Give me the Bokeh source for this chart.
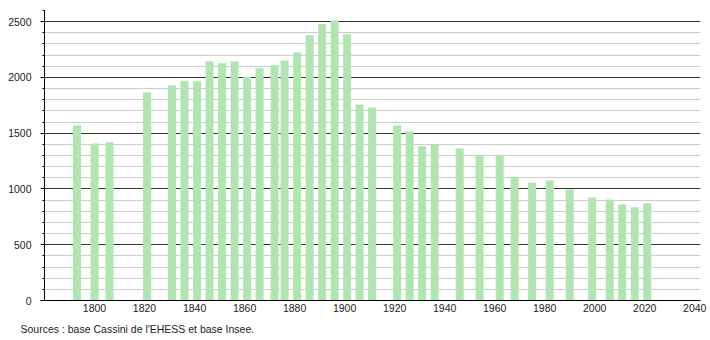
from bokeh.plotting import figure
from bokeh.models import FixedTicker, Title, ColumnDataSource
from bokeh.embed import file_html
from bokeh.resources import INLINE

years = [1793, 1800, 1806, 1821, 1831, 1836, 1841, 1846, 1851, 1856, 1861, 1866,
         1872, 1876, 1881, 1886, 1891, 1896, 1901, 1906, 1911, 1921, 1926, 1931,
         1936, 1946, 1954, 1962, 1968, 1975, 1982, 1990, 1999, 2006, 2011, 2016, 2021]
population = [1569, 1408, 1419, 1867, 1930, 1966, 1966, 2145, 2128, 2143, 2005, 2083,
              2110, 2152, 2223, 2379, 2480, 2510, 2387, 1757, 1730, 1569, 1515, 1383,
              1399, 1365, 1300, 1296, 1105, 1058, 1076, 995, 924, 905, 863, 836, 872]
x_ticks = [1800, 1820, 1840, 1860, 1880, 1900, 1920, 1940, 1960, 1980, 2000, 2020, 2040]
y_ticks = [0, 500, 1000, 1500, 2000, 2500]
y_minor = list(range(0, 2700, 100))
source_text = "Sources : base Cassini de l'EHESS et base Insee."

src = ColumnDataSource(data=dict(x=years, top=population))

p = figure(width=710, height=340, output_backend="svg", toolbar_location=None,
           x_range=(1780, 2042.3), y_range=(0, 2600),
           min_border_left=44, min_border_right=10, min_border_top=10, min_border_bottom=40)
p.outline_line_color = None
p.background_fill_color = "white"

p.vbar(x="x", top="top", width=3.2, source=src, color="#b0e4b0", line_color=None)

# grid
p.xgrid.grid_line_color = None
p.ygrid.ticker = FixedTicker(ticks=y_ticks, minor_ticks=y_minor)
p.ygrid.grid_line_color = "#333333"
p.ygrid.grid_line_width = 1
p.ygrid.minor_grid_line_color = "#cccccc"
p.ygrid.level = "underlay"

# y axis
p.yaxis.ticker = FixedTicker(ticks=y_ticks, minor_ticks=y_minor)
p.yaxis.axis_line_color = "#000000"
p.yaxis.major_tick_out = 4
p.yaxis.major_tick_in = 0
p.yaxis.minor_tick_out = 2
p.yaxis.minor_tick_in = 0
p.yaxis.major_label_standoff = 9
p.yaxis.major_label_text_font = "Liberation Sans"
p.yaxis.major_label_text_font_size = "10.5px"
p.yaxis.major_label_text_color = "#222222"

# x axis
p.xaxis.ticker = FixedTicker(ticks=x_ticks)
p.xaxis.axis_line_color = "#000000"
p.xaxis.major_tick_line_color = None
p.xaxis.minor_tick_line_color = None
p.xaxis.major_tick_out = 0
p.xaxis.major_label_standoff = 3
p.xaxis.major_label_text_font = "Liberation Sans"
p.xaxis.major_label_text_font_size = "10.5px"
p.xaxis.major_label_text_color = "#222222"

t = Title(text=source_text, align="left", offset=-24, standoff=12,
          text_font="Liberation Sans", text_font_size="10.5px", text_color="#222222",
          text_font_style="normal")
p.add_layout(t, "below")

open("out.html", "w").write(file_html(p, INLINE))
